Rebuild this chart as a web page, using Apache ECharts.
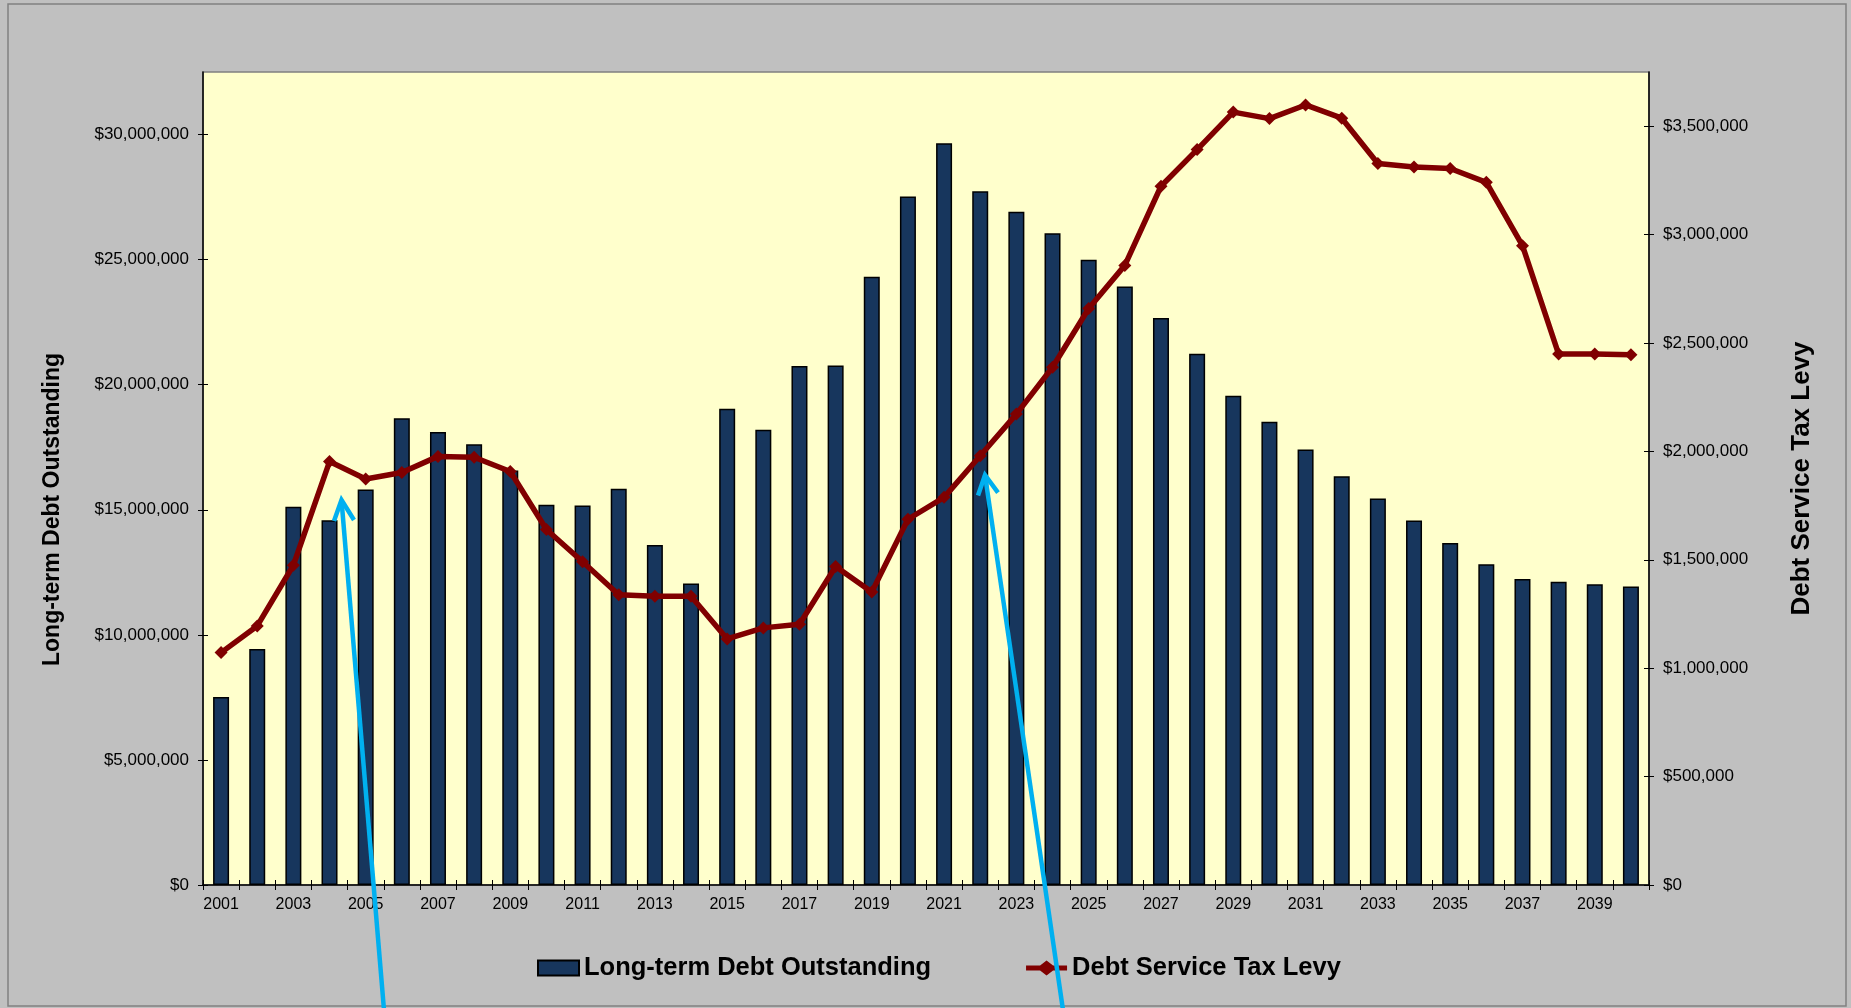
<!DOCTYPE html>
<html>
<head>
<meta charset="utf-8">
<script src="https://cdn.jsdelivr.net/npm/echarts@6/dist/echarts.min.js"></script>
<style>
html,body{margin:0;padding:0;background:#C0C0C0;}
#chart{width:1851px;height:1008px;}
</style>
</head>
<body>
<div id="chart"></div>
<script>
var years = ['2001','2002','2003','2004','2005','2006','2007','2008','2009','2010',
             '2011','2012','2013','2014','2015','2016','2017','2018','2019','2020',
             '2021','2022','2023','2024','2025','2026','2027','2028','2029','2030',
             '2031','2032','2033','2034','2035','2036','2037','2038','2039','2040'];

var debtOutstanding = [7520000, 9430000, 15120000, 14580000, 15810000, 18660000, 18110000, 17620000, 16570000, 15200000,
                       15170000, 15840000, 13590000, 12050000, 19040000, 18200000, 20750000, 20770000, 24320000, 27520000,
                       29650000, 27730000, 26910000, 26050000, 24990000, 23930000, 22670000, 21240000, 19560000, 18520000,
                       17410000, 16340000, 15450000, 14570000, 13670000, 12820000, 12230000, 12120000, 12020000, 11930000];

var taxLevy = [1072000, 1195000, 1475000, 1953000, 1873000, 1903000, 1977000, 1973000, 1907000, 1640000,
               1491000, 1339000, 1332000, 1332000, 1135000, 1186000, 1203000, 1469000, 1351000, 1687000,
               1788000, 1980000, 2172000, 2388000, 2659000, 2858000, 3223000, 3392000, 3565000, 3535000,
               3598000, 3537000, 3328000, 3312000, 3305000, 3241000, 2949000, 2449000, 2449000, 2446000];

var leftTicks = [0, 5000000, 10000000, 15000000, 20000000, 25000000, 30000000];
var rightTicks = [0, 500000, 1000000, 1500000, 2000000, 2500000, 3000000, 3500000];

var seriesNames = ['Long-term Debt Outstanding', 'Debt Service Tax Levy'];

var FONT = "'Liberation Sans', Arial, sans-serif";

function money(v) {
  return '$' + Math.round(v).toString().replace(/\B(?=(\d{3})+(?!\d))/g, ',');
}

var chart = echarts.init(document.getElementById('chart'), null, {renderer: 'canvas'});

var arrowColor = '#00B0F0';
var tickStyle = {color: '#000', width: 1};
var lineLegendIcon = 'path://M0,5L14,5L20.5,0L27,5L41,5L41,10L27,10L20.5,15L14,10L0,10Z';

chart.setOption({
  animation: false,
  backgroundColor: '#C0C0C0',
  textStyle: {fontFamily: FONT, color: '#000'},
  grid: {
    left: 203, right: 202, top: 72, bottom: 123,
    show: true, backgroundColor: '#FFFFCC', borderColor: '#808080', borderWidth: 1.5,
    containLabel: false, outerBoundsMode: 'none'
  },
  legend: {
    left: 537, top: 955, padding: 0,
    itemWidth: 41, itemHeight: 15, itemGap: 95,
    textStyle: {fontFamily: FONT, fontSize: 25.5, fontWeight: 'bold', color: '#000', lineHeight: 26},
    data: [
      {name: seriesNames[0], icon: 'rect'},
      {name: seriesNames[1], icon: lineLegendIcon, itemStyle: {color: '#800000', borderWidth: 0}}
    ]
  },
  xAxis: [
    {
      type: 'category',
      data: years,
      position: 'bottom',
      boundaryGap: true,
      axisLine: {lineStyle: {color: '#000', width: 1.5}},
      axisTick: {show: true, interval: 0, length: 5, lineStyle: tickStyle},
      axisLabel: {interval: 1, margin: 12, fontSize: 16, fontFamily: FONT, color: '#000'},
      splitLine: {show: false}
    },
    {
      type: 'category',
      data: years,
      position: 'bottom',
      boundaryGap: true,
      axisLine: {show: false},
      axisTick: {show: true, inside: true, interval: 0, length: 5, lineStyle: tickStyle},
      axisLabel: {show: false},
      splitLine: {show: false}
    }
  ],
  yAxis: [
    {
      type: 'value', position: 'left',
      min: 0, max: 32500000, interval: 5000000,
      name: seriesNames[0],
      nameLocation: 'middle', nameRotate: 90, nameGap: 139,
      nameTextStyle: {fontFamily: FONT, fontSize: 23, fontWeight: 'bold', color: '#000', padding: [0, 62, 0, 0]},
      axisLine: {show: true, lineStyle: {color: '#000', width: 1.5}},
      axisTick: {show: true, length: 5, lineStyle: tickStyle, customValues: leftTicks},
      axisLabel: {margin: 14, fontSize: 17, fontFamily: FONT, color: '#000', formatter: money, customValues: leftTicks},
      splitLine: {show: false}
    },
    {
      type: 'value', position: 'right',
      min: 0, max: 3750000, interval: 500000,
      name: seriesNames[1],
      nameLocation: 'middle', nameRotate: 90, nameGap: 140,
      nameTextStyle: {fontFamily: FONT, fontSize: 26, fontWeight: 'bold', color: '#000'},
      axisLine: {show: true, lineStyle: {color: '#000', width: 1.5}},
      axisTick: {show: true, length: 5, lineStyle: tickStyle, customValues: rightTicks},
      axisLabel: {margin: 14, fontSize: 17, fontFamily: FONT, color: '#000', formatter: money, customValues: rightTicks},
      splitLine: {show: false}
    },
    {
      type: 'value', position: 'left',
      min: 0, max: 32500000, interval: 5000000,
      axisLine: {show: false},
      axisTick: {show: true, inside: true, length: 5, lineStyle: tickStyle, customValues: leftTicks},
      axisLabel: {show: false},
      splitLine: {show: false}
    },
    {
      type: 'value', position: 'right',
      min: 0, max: 3750000, interval: 500000,
      axisLine: {show: false},
      axisTick: {show: true, inside: true, length: 5, lineStyle: tickStyle, customValues: rightTicks},
      axisLabel: {show: false},
      splitLine: {show: false}
    }
  ],
  series: [
    {
      name: seriesNames[0],
      type: 'bar',
      xAxisIndex: 0,
      yAxisIndex: 0,
      data: debtOutstanding,
      barWidth: 16,
      itemStyle: {color: '#17365D', borderColor: '#000', borderWidth: 1.5}
    },
    {
      name: seriesNames[1],
      type: 'line',
      xAxisIndex: 0,
      yAxisIndex: 1,
      data: taxLevy,
      symbol: 'diamond',
      symbolSize: 13,
      lineStyle: {color: '#800000', width: 5.5},
      itemStyle: {color: '#800000'},
      z: 3
    }
  ],
  graphic: [
    {
      type: 'rect', z: 100, silent: true,
      shape: {x: 8, y: 4, width: 1838, height: 1002},
      style: {fill: null, stroke: '#808080', lineWidth: 1.5}
    },
    {
      type: 'polyline', z: 100, silent: true,
      shape: {points: [[384, 1010], [341.5, 500]]},
      style: {stroke: arrowColor, lineWidth: 4.5, fill: null}
    },
    {
      type: 'polyline', z: 100, silent: true,
      shape: {points: [[334, 521], [341.5, 500], [354, 520]]},
      style: {stroke: arrowColor, lineWidth: 4.5, fill: null, lineJoin: 'miter'}
    },
    {
      type: 'polyline', z: 100, silent: true,
      shape: {points: [[1063, 1010], [985, 475]]},
      style: {stroke: arrowColor, lineWidth: 4.5, fill: null}
    },
    {
      type: 'polyline', z: 100, silent: true,
      shape: {points: [[978, 495.5], [985, 475], [998, 492.7]]},
      style: {stroke: arrowColor, lineWidth: 4.5, fill: null, lineJoin: 'miter'}
    }
  ]
});
</script>
</body>
</html>
